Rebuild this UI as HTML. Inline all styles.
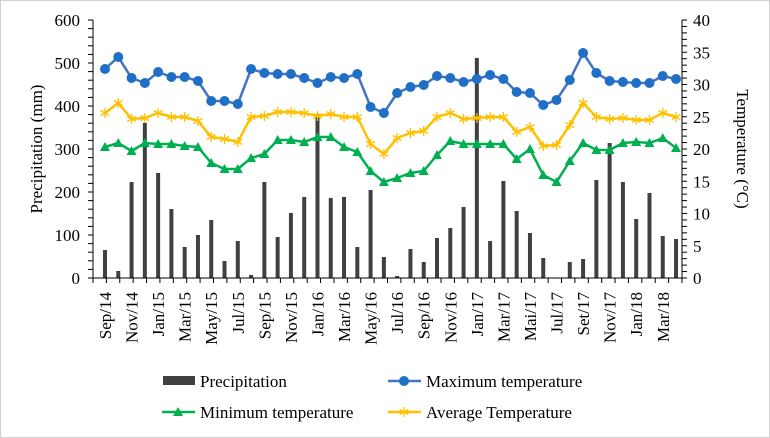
<!DOCTYPE html>
<html><head><meta charset="utf-8"><style>
html,body{margin:0;padding:0;background:#fff}
svg{display:block;font-family:"Liberation Serif",serif}
</style></head><body>
<svg id="s" width="770" height="438" viewBox="0 0 770 438" xmlns="http://www.w3.org/2000/svg">
<rect x="0.5" y="0.5" width="769" height="437" fill="#fff" stroke="#d0d0d0"/>
</svg>
<script>
const s=document.getElementById('s');
let h='';
const X=i=>105+13.28*i;
const bars=[250,271,182,123,173,209,247,235,220,261,241,275,182,237,213,197,114,198,197,247,190,257,276,249,262,238,228,207,58,241,181,211,233,258,278,262,259,180,143,182,219,193,236,239];
const mx=[69,57,78,83,72,77,77,81,101,101,104,69,73,74,74,78,83,77,78,74,107,113,93,87,85,76,78,82,79,75,79,92,93,105,100,80,53,73,81,82,83,83,76,79];
const av=[113,103,119,118,113,117,117,121,137,139,142,117,116,112,112,113,116,114,117,117,144,154,138,133,131,117,113,119,118,117,117,132,127,146,145,125,103,117,119,118,120,120,113,117];
const mn=[147,143,151,143,144,144,146,147,163,169,169,158,154,140,140,142,137,137,147,152,171,182,178,173,171,155,141,144,144,144,144,159,149,175,182,161,143,150,150,143,142,143,138,148];
bars.forEach((y,i)=>{if(y<278)h+=`<rect x="${X(i)-2}" y="${y}" width="4" height="${278-y}" fill="#404040"/>`;});
h+=`<line x1="93" y1="20" x2="93" y2="278" stroke="#000"/><line x1="682" y1="20" x2="682" y2="278" stroke="#000"/><line x1="93" y1="278" x2="682" y2="278" stroke="#000"/>`;
for(let k=0;k<=30;k++){const y=278-k*258/30;h+=`<line x1="88" y1="${y}" x2="93" y2="${y}" stroke="#000"/>`;}
for(let k=0;k<=40;k++){const y=278-k*258/40;h+=`<line x1="682" y1="${y}" x2="687" y2="${y}" stroke="#000"/>`;}
for(let k=0;k<=44;k++){const x=93+k*589/44;h+=`<line x1="${x}" y1="278" x2="${x}" y2="283" stroke="#000"/>`;}
for(let k=0;k<=6;k++){const y=278-k*43;h+=`<text x="80" y="${y+6}" font-size="17" text-anchor="end">${k*100}</text>`;}
for(let k=0;k<=8;k++){const y=278-k*32.25;h+=`<text x="693" y="${y+6}" font-size="17">${k*5}</text>`;}
const labs=['Sep/14','Nov/14','Jan/15','Mar/15','May/15','Jul/15','Sep/15','Nov/15','Jan/16','Mar/16','May/16','Jul/16','Sep/16','Nov/16','Jan/17','Mar/17','Mai/17','Jul/17','Set/17','Nov/17','Jan/18','Mar/18'];
labs.forEach((l,j)=>{const x=X(2*j)+6;h+=`<text transform="translate(${x},292) rotate(-90)" font-size="17" text-anchor="end">${l}</text>`;});
h+=`<text transform="translate(42,149) rotate(-90)" font-size="17" text-anchor="middle">Precipitation (mm)</text>`;
h+=`<text transform="translate(737,149) rotate(90)" font-size="17" text-anchor="middle">Temperature (°C)</text>`;
function line(a,c){return `<polyline fill="none" stroke="${c}" stroke-width="2.5" points="${a.map((y,i)=>X(i)+','+y).join(' ')}"/>`;}
function star(x,y,c){let r=5,o='';for(let k=0;k<3;k++){const t=k*Math.PI/3+Math.PI/2;o+=`<line x1="${x-r*Math.cos(t)}" y1="${y-r*Math.sin(t)}" x2="${x+r*Math.cos(t)}" y2="${y+r*Math.sin(t)}" stroke="${c}" stroke-width="1.3"/>`;}return o;}
function tri(x,y,c){return `<polygon points="${x},${y-5} ${x+5},${y+4} ${x-5},${y+4}" fill="${c}"/>`;}
h+=line(mx,'#4472c4');mx.forEach((y,i)=>h+=`<circle cx="${X(i)}" cy="${y}" r="5" fill="#1f6fc6"/>`);
h+=line(av,'#ffc000');av.forEach((y,i)=>h+=star(X(i),y,'#ffc000'));
h+=line(mn,'#00b050');mn.forEach((y,i)=>h+=tri(X(i),y,'#00b050'));
h+=`<rect x="163" y="376" width="32" height="9" fill="#404040"/><text x="200" y="387" font-size="17">Precipitation</text>`;
h+=`<line x1="388" y1="381" x2="421" y2="381" stroke="#4472c4" stroke-width="2.5"/><circle cx="404" cy="381" r="5" fill="#1f6fc6"/><text x="426" y="387" font-size="17">Maximum temperature</text>`;
h+=`<line x1="162" y1="412" x2="195" y2="412" stroke="#00b050" stroke-width="2.5"/>${tri(178,412,'#00b050')}<text x="200" y="418" font-size="17">Minimum temperature</text>`;
h+=`<line x1="388" y1="412" x2="421" y2="412" stroke="#ffc000" stroke-width="2.5"/>${star(404,412,'#ffc000')}<text x="426" y="418" font-size="17">Average Temperature</text>`;
s.insertAdjacentHTML('beforeend',h);
</script>
</body></html>
